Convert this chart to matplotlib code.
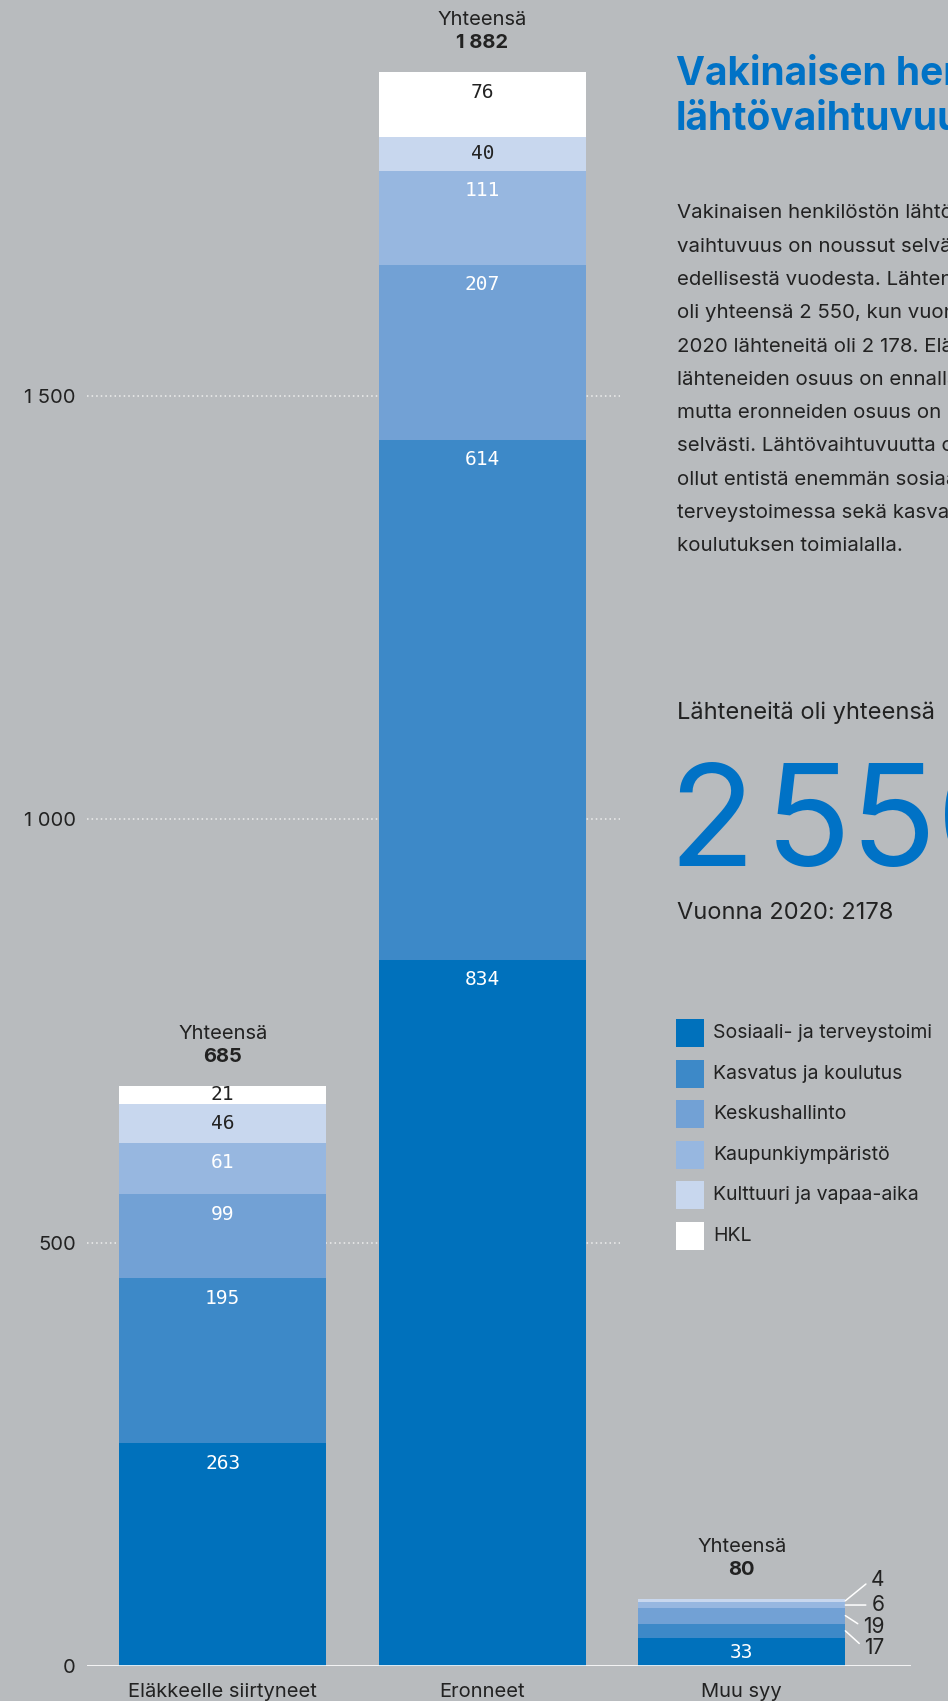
import matplotlib
import matplotlib.pyplot as plt
from matplotlib.patches import Rectangle

matplotlib.use("Agg")

# data
groups = ["Eläkkeelle siirtyneet", "Eronneet", "Muu syy"]
units = [
    "Sosiaali- ja terveystoimi",
    "Kasvatus ja koulutus",
    "Keskushallinto",
    "Kaupunkiympäristö",
    "Kulttuuri ja vapaa-aika",
    "HKL",
]
sosiaali = [263, 834, 33]
kasvatus = [195, 614, 17]
keskushallinto = [99, 207, 19]
kaupunkiymparisto = [61, 111, 6]
kulttuuri = [46, 40, 4]
hkl = [21, 76, 0]
totals = ["685", "1 882", "80"]
yticks = [0, 500, 1000, 1500]
ytick_labels = ["0", "500", "1 000", "1 500"]

colors = ["#0071bc", "#3d89c8", "#72a1d5", "#97b7e0", "#c8d7ee", "#ffffff"]
label_colors = ["white", "white", "white", "white", "#222222", "#222222"]
bg = "#b8bbbe"
ink = "#222222"
sans = ["Inter", "DejaVu Sans"]
mono = ["DejaVu Sans Mono"]

W, H = 948, 1701
PX = 1666 / 1967.6  # pixels per unit on the y axis


def fx(x):
    return x / W


def fy(y):
    return 1 - y / H


fig = plt.figure(figsize=(W / 100, H / 100), dpi=100)
fig.patch.set_facecolor(bg)
ax = fig.add_axes([fx(87), fy(1666), 824 / W, 1666 / H])
ax.set_facecolor("none")
x_left, x_right = -0.523, 2.652
ax.set_xlim(x_left, x_right)
ax.set_ylim(0, 1967.6)
for s in ax.spines.values():
    s.set_visible(False)

# grid + baseline
for y in yticks[1:]:
    ax.plot([x_left, 1.531], [y, y], color="#eeeeee", lw=1.1,
            linestyle=(0, (1, 2)), zorder=0)
ax.axhline(0, color="white", lw=1.2, zorder=3)

series = [sosiaali, kasvatus, keskushallinto, kaupunkiymparisto, kulttuuri, hkl]
bottoms = [0, 0, 0]
xs = range(len(groups))
bar_w = 0.798
# outside labels for the short "Muu syy" bar: series index -> dy in pixels
outside = {1: -17, 2: -11.4, 3: 0, 4: 20.8}
for k, vals in enumerate(series):
    ax.bar(xs, vals, bottom=bottoms, width=bar_w, color=colors[k],
           label=units[k], zorder=2)
    for i, v in enumerate(vals):
        b = bottoms[i]
        top = b + v
        if i == 2 and k > 0:
            if k in outside:
                ax.annotate(str(v), xy=(i + bar_w / 2, b + v / 2),
                            xytext=(39, outside[k]), textcoords="offset pixels",
                            ha="right", va="center", fontsize=15, color=ink,
                            family=sans,
                            arrowprops=dict(arrowstyle="-", color="white", lw=1.1,
                                            shrinkA=2, shrinkB=0, relpos=(0, 0.5)))
            continue
        ly = max(top - 20 / PX, b + v / 2)
        ax.text(i, ly, str(v), ha="center", va="center", fontsize=14,
                family=mono, color=label_colors[k], zorder=4)
    bottoms = [bottoms[i] + vals[i] for i in range(len(vals))]

for i, t in enumerate(totals):
    top = bottoms[i]
    ax.text(i, top + 52 / PX, "Yhteensä", ha="center", va="center",
            fontsize=14.5, family=sans, color=ink)
    ax.text(i, top + 29 / PX, t, ha="center", va="center", fontsize=14.5,
            family=sans, weight="bold", color=ink)

ax.set_yticks(yticks, ytick_labels)
ax.set_xticks(list(xs), groups)
ax.tick_params(axis="y", length=0, pad=8, labelsize=14.5, labelcolor=ink)
ax.tick_params(axis="x", length=0, pad=12, labelsize=14.5, labelcolor=ink)
for lab in ax.get_xticklabels() + ax.get_yticklabels():
    lab.set_family(sans)

# right-hand text panel
fig.text(fx(676), fy(85), "Vakinaisen henkilöstön", fontsize=28, weight="bold",
         color="#0072c6", family=sans, va="baseline")
fig.text(fx(676), fy(130), "lähtövaihtuvuus", fontsize=28, weight="bold",
         color="#0072c6", family=sans, va="baseline")

body = [
    "Vakinaisen henkilöstön lähtö-",
    "vaihtuvuus on noussut selvästi",
    "edellisestä vuodesta. Lähteneitä",
    "oli yhteensä 2 550, kun vuonna",
    "2020 lähteneitä oli 2 178. Eläkkeelle",
    "lähteneiden osuus on ennallaan,",
    "mutta eronneiden osuus on kasvanut",
    "selvästi. Lähtövaihtuvuutta on",
    "ollut entistä enemmän sosiaali- ja",
    "terveystoimessa sekä kasvatuksen ja",
    "koulutuksen toimialalla.",
]
for n, line in enumerate(body):
    fig.text(fx(677), fy(218.3 + n * 33.3), line, fontsize=14.7, color=ink,
             family=sans, va="baseline")

fig.text(fx(677), fy(719), "Lähteneitä oli yhteensä", fontsize=17, color=ink,
         family=sans, va="baseline")
# big number, the thin gap set by drawing the groups apart
fig.text(fx(668), fy(866), "2", fontsize=102, color="#0072c6",
         family=sans, va="baseline")
fig.text(fx(765), fy(866), "550", fontsize=102, color="#0072c6",
         family=sans, va="baseline")
fig.text(fx(677), fy(919), "Vuonna 2020: 2178", fontsize=17, color=ink,
         family=sans, va="baseline")

# legend
for k, (name, c) in enumerate(zip(units, colors)):
    top = 1019 + k * 40.6
    fig.add_artist(Rectangle((fx(676), fy(top + 28)), 28 / W, 28 / H,
                             transform=fig.transFigure, facecolor=c,
                             edgecolor="none"))
    fig.text(fx(713), fy(top + 14), name, fontsize=14, color=ink,
             family=sans, va="center")

fig.savefig("out.png", dpi=100, facecolor=bg)
